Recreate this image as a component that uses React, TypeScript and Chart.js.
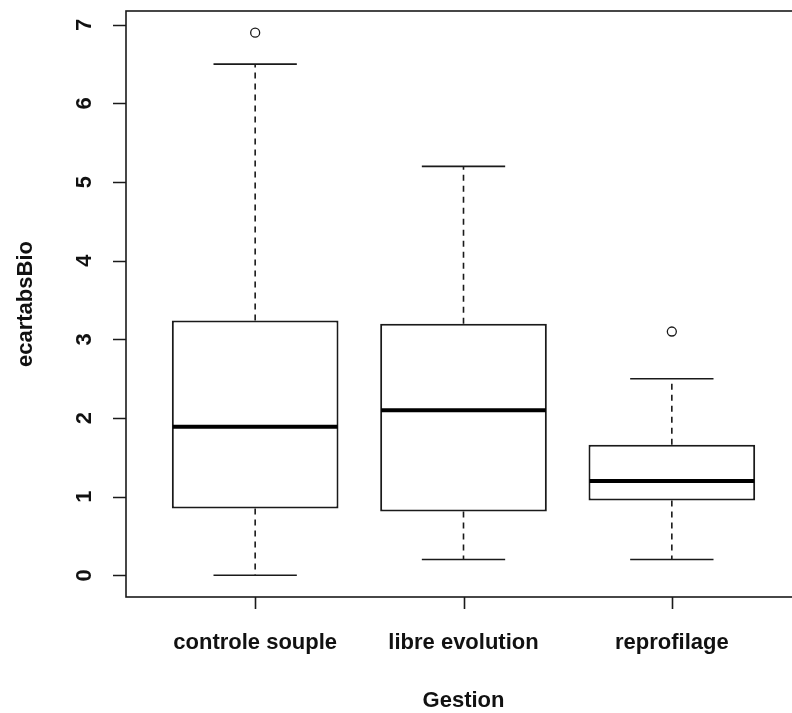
import React, { useEffect, useRef } from "react";
import { Chart, registerables } from "chart.js";

Chart.register(...registerables);

const categories = ["controle souple", "libre evolution", "reprofilage"];
const lowerWhisker = [0.0, 0.2, 0.2];
const q1 = [0.85, 0.81, 0.95];
const median = [1.89, 2.1, 1.2];
const q3 = [3.24, 3.2, 1.66];
const upperWhisker = [6.5, 5.2, 2.5];
const outliers = [[6.9], [], [3.1]];
const yTicks = [0, 1, 2, 3, 4, 5, 6, 7];
const xTitle = "Gestion";
const yTitle = "ecartabsBio";

const FONT = 'bold 22px "Liberation Sans", Arial, sans-serif';
const INK = "#1a1a1a";

const boxplotPlugin = {
  id: "rBoxplot",
  afterDatasetsDraw(chart: any) {
    const ctx = chart.ctx as CanvasRenderingContext2D;
    const xs = chart.scales.x;
    const ys = chart.scales.y;
    const area = chart.chartArea;
    ctx.save();
    ctx.strokeStyle = INK;
    categories.forEach((_, i) => {
      const cx = xs.getPixelForValue(i + 1);
      const capHalf = xs.getPixelForValue(1.2) - xs.getPixelForValue(1);
      const boxHalf = xs.getPixelForValue(1.4) - xs.getPixelForValue(1);
      ctx.lineWidth = 1.6;
      ctx.setLineDash([6, 5]);
      ctx.beginPath();
      ctx.moveTo(cx, ys.getPixelForValue(q3[i]));
      ctx.lineTo(cx, ys.getPixelForValue(upperWhisker[i]));
      ctx.moveTo(cx, ys.getPixelForValue(q1[i]));
      ctx.lineTo(cx, ys.getPixelForValue(lowerWhisker[i]));
      ctx.stroke();
      ctx.setLineDash([]);
      ctx.beginPath();
      const yu = ys.getPixelForValue(upperWhisker[i]);
      const yl = ys.getPixelForValue(lowerWhisker[i]);
      ctx.moveTo(cx - capHalf, yu);
      ctx.lineTo(cx + capHalf, yu);
      ctx.moveTo(cx - capHalf, yl);
      ctx.lineTo(cx + capHalf, yl);
      ctx.stroke();
      ctx.lineWidth = 4;
      ctx.strokeStyle = "#000";
      ctx.beginPath();
      const ym = ys.getPixelForValue(median[i]);
      ctx.moveTo(cx - boxHalf + 1, ym);
      ctx.lineTo(cx + boxHalf - 1, ym);
      ctx.stroke();
      ctx.strokeStyle = INK;
    });
    ctx.lineWidth = 1.6;
    ctx.strokeRect(area.left, area.top, area.right - area.left, area.bottom - area.top);
    ctx.beginPath();
    yTicks.forEach((v) => {
      const y = Math.round(ys.getPixelForValue(v)) + 0.5;
      ctx.moveTo(area.left - 13, y);
      ctx.lineTo(area.left, y);
    });
    categories.forEach((_, i) => {
      const x = Math.round(xs.getPixelForValue(i + 1)) + 0.5;
      ctx.moveTo(x, area.bottom);
      ctx.lineTo(x, area.bottom + 12);
    });
    ctx.stroke();
    ctx.fillStyle = "#111";
    ctx.font = FONT;
    ctx.textAlign = "center";
    ctx.textBaseline = "alphabetic";
    categories.forEach((c, i) => {
      ctx.fillText(c, xs.getPixelForValue(i + 1), 649);
    });
    ctx.fillText(xTitle, (area.left + area.right) / 2, 707);
    yTicks.forEach((v) => {
      ctx.save();
      ctx.translate(91, ys.getPixelForValue(v));
      ctx.rotate(-Math.PI / 2);
      ctx.fillText(String(v), 0, 0);
      ctx.restore();
    });
    ctx.save();
    ctx.translate(31.5, (area.top + area.bottom) / 2);
    ctx.rotate(-Math.PI / 2);
    ctx.fillText(yTitle, 0, 0);
    ctx.restore();
    ctx.restore();
  },
};

export default function App() {
  const ref = useRef<HTMLCanvasElement | null>(null);
  useEffect(() => {
    if (!ref.current) return;
    const boxData = categories.map((_, i) => ({ x: i + 1, y: [q1[i], q3[i]] }));
    const outlierData: { x: number; y: number }[] = [];
    outliers.forEach((arr, i) => arr.forEach((v) => outlierData.push({ x: i + 1, y: v })));
    const chart = new Chart(ref.current, {
      type: "bar",
      data: {
        datasets: [
          {
            type: "bar",
            data: boxData as any,
            backgroundColor: "#ffffff",
            borderColor: INK,
            borderWidth: 2,
            borderSkipped: false,
            barPercentage: 0.8,
            categoryPercentage: 1,
            grouped: false,
          } as any,
          {
            type: "scatter",
            data: outlierData,
            pointRadius: 4.5,
            pointBorderWidth: 1.3,
            pointBorderColor: INK,
            pointBackgroundColor: "#ffffff",
          } as any,
        ],
      },
      options: {
        animation: false,
        responsive: false,
        devicePixelRatio: 1,
        layout: { padding: { left: 126, top: 11, right: 29, bottom: 116 } },
        plugins: { legend: { display: false }, tooltip: { enabled: false } },
        scales: {
          x: {
            type: "linear",
            min: 0.38,
            max: 3.62,
            offset: false,
            display: false,
            afterBuildTicks: (axis: any) => {
              axis.ticks = categories.map((_, i) => ({ value: i + 1 }));
            },
          },
          y: { type: "linear", min: -0.276, max: 7.176, display: false },
        },
      },
      plugins: [boxplotPlugin],
    });
    return () => chart.destroy();
  }, []);
  return (
    <div style={{ position: "absolute", left: 0, top: 0, width: 792, height: 713, overflow: "hidden", background: "#fff" }}>
      <canvas ref={ref} width={830} height={713} style={{ display: "block", width: 830, height: 713 }} />
    </div>
  );
}
